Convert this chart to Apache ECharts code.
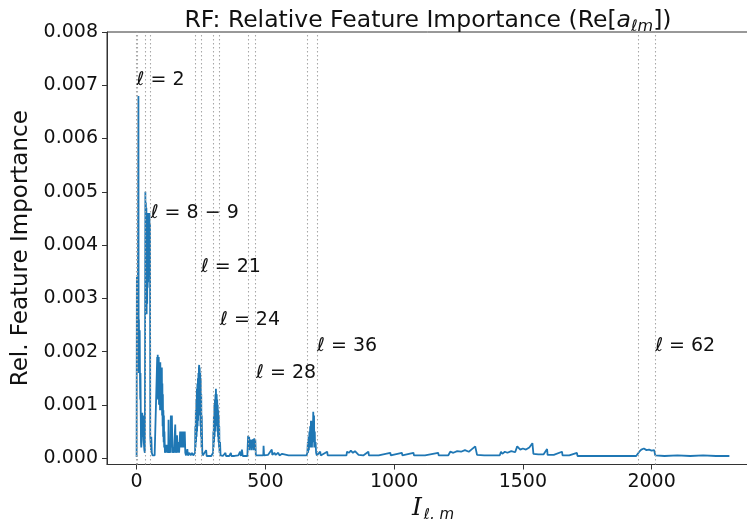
<!DOCTYPE html>
<html><head><meta charset="utf-8">
<script src="https://cdn.jsdelivr.net/npm/echarts@6/dist/echarts.min.js"></script>
<style>html,body{margin:0;padding:0;background:#fff}#c{width:747px;height:519px}</style>
</head><body><div id="c"></div>
<script>
// index I_{l,m} of each sampled point and its relative feature importance
const indexPos = [
 0,1,3,5,7,8,9,10,12,13,14,15,16,17,18,20,22,24,26,28,30,32,
 33,34,35,36,37,38,39,40,41,42,43,44,45,46,47,48,49,50,51,52,53,55,56,57,59,62,66,70,76,
 78,80,81,82,83,84,85,86,87,88,89,90,91,92,93,94,95,96,97,98,99,100,101,102,103,104,105,106,107,108,110,
 112,116,118,120,123,124,125,128,131,133,135,137,139,142,145,148,150,152,155,157,159,162,165,168,169,172,175,178,181,184,187,189,192,197,199,205,210,215,220,226,
 227,228,229,230,231,232,233,234,235,236,237,238,239,240,241,242,243,244,245,246,247,248,249,250,251,252,253,255,257,
 262,270,272,280,290,296,
 297,298,299,300,301,302,303,304,305,306,307,308,309,310,311,312,313,314,315,316,317,318,319,320,321,322,324,326,
 335,345,347,360,366,368,380,395,402,405,409,412,420,430,
 432,433,435,437,439,441,443,445,447,449,451,453,455,457,459,461,463,
 470,480,492,493,495,510,525,527,535,540,550,555,565,570,590,610,630,650,660,
 663,665,666,668,669,671,672,674,675,677,678,680,681,683,684,686,687,689,690,692,693,695,697,700,
 713,715,740,742,760,790,815,
 817,825,832,840,848,855,862,880,900,902,940,985,987,1030,1032,1075,1077,1120,1171,1173,1210,
 1218,1230,1245,1260,1275,1290,1300,1315,1322,1350,1400,
 1410,1415,1420,1430,1440,1455,1470,1478,1490,1500,1512,1525,1537,1541,1560,1580,1594,1596,1620,1652,1654,1680,1710,1712,1760,1820,1880,1940,
 1952,1960,1970,1980,1990,2000,2010,2014,2050,2100,2150,2200,2250,2302
];
const importanceVal = [
 0.00002,0.0034,0.0030,0.0034,0.0068,0.0016,0.0026,0.0016,0.0024,0.0016,0.0011,0.0016,0.0009,0.0003,0.0002,0.00035,0.00085,0.0004,0.0008,0.0003,0.00015,0.0001,
 0.0001,0.0050,0.0030,0.0048,0.0028,0.0047,0.0027,0.0046,0.0029,0.0045,0.0032,0.0046,0.0033,0.0046,0.0034,0.0045,0.0036,0.0046,0.0035,0.0044,0.0004,0.0004,0.00015,0.0004,0.0001,0.00005,0.00006,0.00005,0.00005,
 0.00005,0.0019,0.0012,0.00194,0.0011,0.0018,0.0013,0.0019,0.0010,0.0018,0.0012,0.0017,0.0009,0.0018,0.0011,0.0017,0.0009,0.0016,0.0010,0.0017,0.0008,0.0014,0.0006,0.0012,0.0004,0.0009,0.0003,0.0008,0.0002,0.0005,0.0001,
 0.0001,0.00025,0.0001,0.0002,0.0001,0.00072,0.0001,0.00015,0.0001,0.0008,0.0002,0.0008,0.0001,0.0002,0.0001,0.0001,0.00063,0.0001,0.0002,0.00043,0.0001,0.0003,0.0001,0.0001,0.0005,0.0002,0.0005,0.0002,0.0005,0.0002,0.0005,0.0001,0.00005,0.00017,0.00005,0.0001,0.00005,0.0001,0.00005,0.00005,
 0.0001,0.0006,0.0002,0.0009,0.0003,0.0011,0.0004,0.0013,0.0005,0.0014,0.0006,0.0015,0.0007,0.0016,0.0008,0.0017,0.00175,0.0009,0.0017,0.0008,0.0016,0.0006,0.0015,0.0004,0.0012,0.0002,0.0008,0.0001,0.00005,
 0.00005,0.00015,0.00004,0.00004,0.00004,0.00004,
 0.0001,0.0005,0.0002,0.0008,0.0003,0.0010,0.0004,0.0011,0.0005,0.0012,0.0006,0.0013,0.00131,0.0007,0.0012,0.0006,0.0011,0.0005,0.0010,0.0004,0.0009,0.0003,0.0008,0.0002,0.0006,0.0001,0.0003,0.00005,
 0.00004,0.0001,0.00004,0.00004,0.0001,0.00004,0.00004,0.00005,0.00012,0.00004,0.00016,0.00004,0.00004,0.00004,
 0.00005,0.00042,0.0002,0.0004,0.00015,0.00035,0.0002,0.00034,0.00015,0.00035,0.0002,0.00036,0.00015,0.00037,0.0002,0.00035,0.00005,
 0.00005,0.00005,0.00005,0.00023,0.00005,0.00006,0.00016,0.00006,0.0001,0.00006,0.0001,0.00005,0.00008,0.00005,0.00005,0.00005,0.00005,0.00005,0.00005,
 0.0001,0.0003,0.0001,0.0004,0.00015,0.0005,0.0002,0.0006,0.0002,0.0007,0.0003,0.0006,0.0002,0.0007,0.0003,0.00087,0.0003,0.0008,0.0002,0.0005,0.0002,0.0003,0.0001,0.00005,
 0.00012,0.00005,0.00012,0.00005,0.00005,0.00005,0.00005,
 0.00012,0.0001,0.00014,0.0001,0.00013,0.00014,0.00006,0.00005,0.00012,0.00005,0.00005,0.0001,0.00005,0.0001,0.00005,0.0001,0.00005,0.00005,0.0001,0.00005,0.00005,
 0.00012,0.0001,0.00013,0.00012,0.00015,0.00012,0.00016,0.00022,0.00006,0.00005,0.00005,
 0.00005,0.00012,0.00008,0.00012,0.0001,0.00013,0.00011,0.00022,0.00016,0.00018,0.00016,0.0002,0.00028,0.00008,0.00007,0.00007,0.00017,0.00006,0.00006,0.00012,0.00005,0.00005,0.0001,0.00004,0.00004,0.00004,0.00004,0.00004,
 0.00012,0.00016,0.00018,0.00015,0.00016,0.00014,0.00015,0.00005,0.00004,0.00005,0.00004,0.00005,0.00004,0.00004
];
const xTicks = [0, 500, 1000, 1500, 2000];
const yTicks = [0, 0.001, 0.002, 0.003, 0.004, 0.005, 0.006, 0.007, 0.008];
const boundaryLines = [0, 3, 33, 52, 228, 250, 297, 322, 432, 462, 663, 700, 1950, 2013];
const annoX = [0, 55, 250, 324, 464, 701, 2014];
const annoY = [0.007, 0.0045, 0.0035, 0.0025, 0.0015, 0.002, 0.002];
const annoText = ['ℓ = 2', 'ℓ = 8 − 9', 'ℓ = 21', 'ℓ = 24', 'ℓ = 28', 'ℓ = 36', 'ℓ = 62'];

const FF = 'DejaVu Sans';
const TC = '#111';
const lineData = indexPos.map((x, i) => [x, importanceVal[i]]);
const annoData = annoX.map((x, i) => [x, annoY[i]]);

const chart = echarts.init(document.getElementById('c'), null, {renderer: 'canvas'});
chart.setOption({
  animation: false,
  backgroundColor: '#fff',
  title: {
    text: '{n|RF: Relative Feature Importance (Re[}{i|a}{s|ℓm}{n|])}',
    left: 423, top: 1, textAlign: 'center',
    textStyle: {
      fontWeight: 'normal',
      rich: {
        n: {fontFamily: FF, fontSize: 23.5, fontWeight: 'normal', color: TC, verticalAlign: 'middle', lineHeight: 29},
        i: {fontFamily: FF, fontSize: 23.5, fontWeight: 'normal', color: TC, fontStyle: 'italic', verticalAlign: 'middle', lineHeight: 29},
        s: {fontFamily: FF, fontSize: 16, fontWeight: 'normal', color: TC, fontStyle: 'italic', verticalAlign: 'middle', padding: [12, 0, 0, 0]}
      }
    }
  },
  grid: {left: 107, right: -12, top: 32, bottom: 54.5, show: true, borderColor: '#333', borderWidth: 1,
    containLabel: false, outerBoundsMode: 'none'},
  xAxis: {
    type: 'value', min: -115, max: 2417,
    axisLine: {show: true, onZero: false, lineStyle: {color: '#333', width: 1}},
    axisTick: {show: true, length: 5, customValues: xTicks, lineStyle: {color: '#333'}},
    axisLabel: {customValues: xTicks, fontFamily: FF, fontSize: 19, color: TC, margin: 8,
      formatter: v => String(v)},
    splitLine: {show: false},
    name: '{c|I}{s|ℓ, m}', nameLocation: 'middle', nameGap: 20,
    nameTextStyle: {
      rich: {
        c: {fontFamily: 'DejaVu Serif', fontSize: 25, color: TC, fontStyle: 'italic', verticalAlign: 'middle'},
        s: {fontFamily: FF, fontSize: 15, color: TC, fontStyle: 'italic', verticalAlign: 'middle', padding: [12, 0, 0, 2]}
      }
    }
  },
  yAxis: {
    type: 'value', min: -0.00012, max: 0.008,
    axisLine: {show: true, onZero: false, lineStyle: {color: '#333', width: 1}},
    axisTick: {show: true, length: 5, customValues: yTicks, lineStyle: {color: '#333'}},
    axisLabel: {customValues: yTicks, fontFamily: FF, fontSize: 19, color: TC, margin: 9,
      formatter: v => v.toFixed(3)},
    splitLine: {show: false},
    name: 'Rel. Feature Importance', nameLocation: 'middle', nameGap: 68, nameRotate: 90,
    nameTextStyle: {fontFamily: FF, fontSize: 23, color: TC}
  },
  series: [
    {
      type: 'line', data: lineData, showSymbol: false, sampling: null,
      lineStyle: {color: '#1f77b4', width: 1.8}, z: 3,
      markLine: {
        silent: true, symbol: ['none', 'none'], label: {show: false}, animation: false,
        lineStyle: {color: '#a8a8a8', type: [1.5, 2.5], width: 1.1},
        data: boundaryLines.map(v => ({xAxis: v}))
      }
    },
    {
      type: 'scatter', data: annoData, symbolSize: 0.1, itemStyle: {color: '#fff', opacity: 1}, z: 5,
      label: {
        show: true, position: [0, 0], align: 'left', verticalAlign: 'middle', offset: [0, -5],
        fontFamily: FF, fontSize: 19, color: TC, opacity: 1,
        formatter: p => annoText[p.dataIndex]
      },
      emphasis: {disabled: true}
    }
  ]
});
</script></body></html>
